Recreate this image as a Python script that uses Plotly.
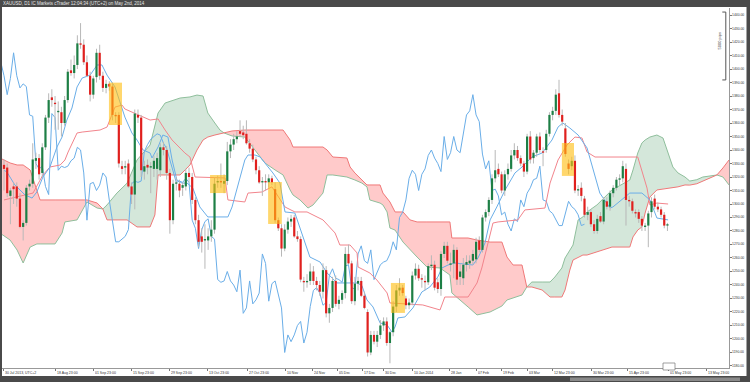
import plotly.graph_objects as go

# ---------------- data ----------------
opens = [1329,1327,1306,1313,1313,1304,1283,1286,1313,1315,1332,1334,1323,1342,1364,1379,1375,1368,1368,1360,
         1377,1399,1397,1403,1419,1418,1405,1395,1381,1394,1412,1395,1386,1389,1387,1366,1366,1328,1327,1330,
         1313,1307,1366,1364,1324,1329,1327,1326,1326,1325,1342,1340,1323,1288,1315,1315,1312,1313,1323,1320,
         1303,1288,1276,1273,1273,1276,1281,1316,1317,1315,1317,1339,1344,1348,1354,1353,1352,1345,1341,1333,
         1325,1316,1317,1316,1319,1311,1288,1282,1267,1281,1287,1290,1276,1274,1243,1242,1243,1250,1243,1240,
         1235,1251,1219,1223,1243,1226,1229,1234,1263,1256,1228,1241,1243,1232,1220,1190,1203,1198,1203,1210,
         1213,1197,1205,1224,1236,1238,1230,1225,1227,1247,1252,1245,1243,1242,1254,1255,1242,1237,1263,1269,
         1255,1256,1266,1246,1245,1255,1256,1258,1259,1273,1266,1290,1294,1303,1319,1326,1322,1310,1322,1326,
         1336,1340,1334,1330,1324,1350,1334,1338,1350,1339,1340,1352,1366,1369,1382,1366,1356,1330,1328,1332,
         1310,1312,1304,1292,1294,1285,1280,1291,1287,1302,1298,1308,1312,1318,1319,1326,1303,1302,1294,1294,
         1289,1283,1284,1294,1304,1298,1296,1292,1284]
highs = [1333,1330,1312,1316,1316,1308,1288,1314,1318,1345,1338,1337,1345,1366,1382,1385,1380,1376,1372,1380,
         1400,1407,1410,1425,1434,1422,1410,1398,1395,1415,1418,1398,1392,1391,1390,1368,1368,1332,1332,1333,
         1316,1370,1370,1366,1332,1333,1331,1336,1338,1345,1346,1343,1326,1318,1320,1318,1316,1326,1327,1323,
         1305,1292,1282,1285,1282,1288,1320,1321,1330,1322,1346,1348,1352,1354,1362,1358,1362,1348,1344,1335,
         1328,1320,1322,1322,1321,1316,1290,1285,1285,1290,1292,1292,1280,1276,1246,1248,1256,1254,1246,1243,
         1256,1254,1226,1246,1247,1232,1236,1268,1270,1258,1246,1246,1246,1235,1222,1206,1206,1206,1214,1216,
         1216,1206,1228,1240,1245,1240,1232,1230,1250,1256,1255,1248,1247,1256,1262,1258,1245,1265,1272,1272,
         1264,1270,1268,1256,1260,1262,1262,1266,1275,1276,1292,1296,1305,1322,1340,1330,1324,1325,1330,1340,
         1345,1343,1336,1332,1352,1354,1340,1352,1353,1342,1355,1368,1372,1385,1392,1370,1360,1333,1335,1336,
         1314,1316,1306,1298,1296,1288,1292,1294,1305,1305,1310,1314,1320,1322,1332,1330,1306,1304,1296,1296,
         1291,1286,1295,1305,1307,1301,1298,1294,1286]
lows = [1310,1305,1285,1300,1298,1282,1273,1284,1310,1312,1326,1318,1320,1340,1360,1372,1355,1355,1350,1358,
        1375,1395,1393,1400,1415,1403,1394,1376,1378,1390,1392,1383,1382,1384,1362,1360,1327,1322,1322,1312,
        1300,1296,1360,1320,1318,1322,1308,1320,1318,1320,1336,1318,1278,1285,1310,1305,1306,1310,1316,1300,
        1285,1268,1264,1252,1266,1272,1278,1312,1312,1308,1314,1334,1340,1345,1350,1348,1344,1338,1331,1322,
        1315,1306,1310,1312,1314,1286,1280,1261,1265,1278,1283,1275,1272,1242,1235,1238,1240,1240,1236,1232,
        1230,1216,1212,1220,1224,1222,1226,1230,1255,1226,1225,1236,1231,1222,1187,1188,1196,1194,1200,1206,
        1195,1182,1202,1220,1232,1232,1222,1222,1225,1244,1243,1238,1236,1240,1251,1236,1234,1232,1260,1256,
        1250,1245,1240,1240,1240,1250,1252,1255,1256,1264,1264,1287,1291,1300,1316,1320,1308,1306,1318,1324,
        1333,1332,1328,1320,1322,1330,1330,1335,1338,1328,1338,1350,1362,1366,1364,1358,1335,1322,1325,1308,
        1306,1302,1290,1288,1283,1278,1278,1286,1285,1296,1295,1305,1310,1314,1316,1284,1298,1293,1290,1286,
        1280,1280,1268,1290,1296,1294,1290,1282,1280]
closes = [1326,1308,1310,1311,1304,1283,1286,1312,1315,1333,1334,1322,1342,1364,1377,1377,1374,1369,1360,1377,
          1398,1397,1403,1419,1418,1405,1395,1381,1393,1412,1395,1386,1389,1387,1366,1365,1330,1326,1328,1313,
          1307,1367,1364,1325,1328,1327,1328,1332,1334,1342,1340,1323,1288,1315,1316,1310,1314,1323,1320,1303,
          1288,1272,1272,1274,1276,1281,1315,1317,1316,1317,1339,1344,1348,1350,1352,1351,1345,1341,1333,1325,
          1316,1317,1316,1319,1316,1288,1282,1267,1281,1287,1289,1276,1274,1244,1242,1243,1250,1243,1240,1235,
          1251,1219,1223,1243,1226,1229,1234,1263,1256,1228,1241,1243,1232,1223,1190,1203,1198,1203,1210,1213,
          1197,1205,1224,1236,1238,1234,1225,1227,1247,1252,1245,1244,1242,1254,1255,1238,1237,1263,1269,1258,
          1256,1266,1244,1250,1255,1257,1258,1263,1272,1266,1290,1294,1303,1319,1325,1322,1310,1322,1326,1336,
          1340,1334,1330,1324,1350,1333,1338,1350,1340,1338,1352,1366,1369,1381,1366,1361,1337,1326,1332,1310,
          1311,1306,1292,1294,1285,1280,1289,1287,1303,1298,1308,1312,1318,1319,1328,1303,1302,1295,1293,1289,
          1284,1284,1293,1302,1298,1296,1292,1284,1285]

# Tenkan-sen (blue, follows price) vertices: bar index, price
tenkan_x = [0,0.9,3.4,6.6,8.8,10.3,12.2,14.4,16.6,18.2,19.7,21.3,22.9,24.5,27,29.2,30.7,32.3,34.8,36.4,37.9,40.1,
            41.7,43.6,45.8,46.4,48.3,49.8,51.4,52.7,54.2,55.8,57.4,59.2,61.4,63.9,70.2,71.5,74,75.5,76.5,78.7,80.3,
            81.8,84.3,86.5,88.1,91.2,93.7,95.9,99.1,101.3,104.4,110.7,112.2,113.8,115.7,117.9,120.1,121.6,122.6,
            123.5,125.7,128.2,131,133.5,136,137.3,139.2,141.4,147,148.6,150.8,152.4,154.5,157.1,160.2,162.4,165.5,
            168.7,171.8,173.7,175.2,177.4,180,182.8,186.8,190,190.9,196.2,200,202.5,204.7,208.2]
tenkan_y = [1325,1323.7,1314.1,1306.7,1304.4,1308.9,1320,1327.4,1342.2,1349.6,1362.2,1371.1,1386.7,1393.3,1395.5,
            1403,1403,1395.5,1386.7,1374.8,1364.4,1352.6,1347.4,1340,1337.8,1334.1,1342.2,1351.1,1349.6,1332.6,
            1317.8,1315.5,1315.5,1311.8,1297.8,1290.4,1290.4,1297.8,1320,1332.6,1336.3,1336.3,1334.8,1330.4,1323,
            1315.5,1294.1,1293.3,1275.6,1260.7,1257,1248.9,1241.5,1241.5,1239.6,1228.9,1223.7,1211.9,1210.4,1205.2,
            1208.9,1215.6,1216.3,1223,1234.8,1238.5,1245.9,1252.6,1254.8,1256.3,1254.8,1260,1271.1,1288.2,1297.8,
            1310.4,1323,1327.4,1334.8,1337.8,1347.4,1357,1360,1356.3,1351.1,1341.5,1308.1,1297,1297.8,1308.1,1308.1,
            1303,1289.6,1288.2]

# Kijun-sen (pink) vertices
kijun_x = [0,9.1,12.2,14.4,17.6,19.1,20.1,22.9,24.5,30.1,32.3,34.8,37,37.9,45.8,48.3,50.5,52.7,56.7,58.3,59.9,
           69.3,70.2,75.5,76.5,80.9,84,88.1,91.2,95,100,103.8,105.3,108.5,110.7,111,114.7,116.9,120.1,121,131.3,
           134.5,136.7,138.2,145.5,148.3,149.8,153.3,154.9,161.1,163.3,169.6,171.2,173.7,176.5,179,181.2,182.8,
           185.3,198.7,200.3,201.6,202.5,204.7,208.2]
kijun_y = [1303,1308.1,1321.5,1327.4,1328.9,1332.6,1338.5,1352.6,1353.3,1354.8,1357,1371.8,1373.3,1370.4,1362.2,
           1363,1354.8,1347.4,1337.8,1334.8,1320,1319.3,1303,1301.5,1308.1,1308.9,1312.7,1297.8,1294.1,1294.1,
           1288.2,1278.5,1269.6,1269.6,1263.7,1253.3,1248.9,1243.7,1234.1,1226.7,1225.2,1223,1221.5,1231.1,1231.1,
           1241.5,1252.6,1285.9,1286.7,1288.2,1295.6,1297,1315.5,1332.6,1343.7,1349.6,1348.9,1338.5,1334.8,1334.8,
           1323,1311.8,1299.3,1300.7,1300]

# Cloud: shared bar positions, Senkou span A and Senkou span B
cloud_x = [-1.3,1.9,4.1,6.0,8.2,10.3,11.3,16.0,18.2,19.1,22.9,26.0,29.2,31.0,32.3,35.4,38.6,41.7,45.8,47.3,48.3,
           50.5,55.2,58.3,60.5,62.4,63.9,66.1,67.7,69.0,71.5,75.5,78.7,81.8,85.0,87.5,89.7,90.6,92.8,95.3,96.9,
           100,101.3,103.1,107.5,108.5,110,112.2,113.8,114.7,117.9,118.8,120.1,121,122.6,125.1,127.3,129.5,132.6,
           136.7,139.8,140.4,145.5,148.3,152.4,156.1,157.7,159.6,162.4,163.9,165.5,168.7,171.2,172.7,174.9,175.9,
           177.4,178.4,180,181.5,182.8,185.9,190.6,196.2,197.2,198.7,200,201,202.5,204.7,206.6,208.2,209.7,211.3,
           213.5,215,217.2,219.1,221.3,223.5,225.4,227.3]
span_a = [1278.5,1273.3,1265.9,1256.3,1268.1,1270.4,1270.4,1270.4,1278.5,1286.7,1288.2,1301.5,1297.0,1296.3,1299.3,
          1308.1,1315.5,1332.6,1343.7,1358.5,1367.4,1374.8,1378.5,1379.3,1380.7,1380,1367.4,1360,1354.8,1352.6,
          1350.4,1349.6,1340,1330.4,1325.2,1321.5,1310.4,1306.7,1303,1297,1299.3,1308.1,1321.5,1321.5,1320,1319.3,
          1317.8,1315.5,1312.7,1303,1300.7,1299.3,1294.1,1282.2,1280.7,1271.8,1265.9,1260.7,1253.3,1252.6,1247.4,
          1234.1,1223.7,1217.8,1220,1224.4,1228.9,1230.4,1232.6,1238.5,1242.2,1242.2,1242.2,1245.9,1252.6,1260,
          1265.9,1269.6,1288.2,1290.4,1294.1,1299.3,1310.4,1317.8,1325.2,1337.8,1345.2,1347.4,1349.6,1351.1,1348.9,
          1337.8,1327.4,1323,1320,1317,1318,1320,1321,1321.5,1320,1314.1]
span_b = [1334.1,1330.4,1328.9,1328.9,1325.2,1310.4,1303,1303,1303,1303,1303,1303,1300.7,1296.3,1288.2,1288.2,
          1288.2,1283,1283,1291.9,1321.5,1321.5,1321.5,1328.9,1340,1347.4,1349.6,1351.1,1351.9,1352.6,1354.1,
          1354.8,1354.8,1354.8,1354.8,1354.8,1347.4,1342.2,1342.2,1342.2,1342.2,1342.2,1340,1334.8,1334.1,1327.4,
          1323,1317.8,1314.1,1314.1,1314.1,1308.1,1304.4,1301.5,1294.1,1294.1,1288.2,1286.7,1286.7,1286.7,1286.7,
          1274.8,1274.8,1273.3,1271.8,1271.8,1260.7,1254.8,1254.8,1238.5,1238.5,1236.3,1231.1,1231.1,1231.1,1236.3,
          1251.1,1258.5,1260.7,1262.2,1262.2,1264.4,1268.1,1268.1,1275.6,1280.7,1283,1293.3,1305.2,1310.4,1311.1,
          1311.8,1311.8,1312.7,1314.1,1314,1315,1317,1319,1321.5,1326.7,1332.6]

# Highlight boxes (bar index range, price range)
box_x0 = [32.9, 64.6, 82.8, 121.3, 174.9]
box_x1 = [37.0, 69.6, 87.1, 125.7, 178.7]
box_lo = [1358.5, 1308.1, 1285.2, 1219.3, 1320.8]
box_hi = [1389.9, 1321.5, 1316.3, 1241.5, 1345.2]

# Axis ticks
x_tick_pos = [-0.3, 16.0, 27.9, 40.1, 52.0, 63.9, 76.2, 88.1, 96.6, 104.4, 112.5, 119.1, 128.2, 139.8, 148.0,
              156.1, 164.0, 172.1, 184.3, 195.6, 208.2, 220.4]
x_tick_text = ["30 Jul 2013, UTC+2", "18 Aug 23:00", "01 Sep 23:00", "15 Sep 23:00", "29 Sep 23:00",
               "13 Oct 23:00", "27 Oct 23:00", "10 Nov", "24 Nov", "05 Dec", "17 Dec", "30 Dec", "10 Jan 2014",
               "28 Jan", "07 Feb", "19 Feb", "03 Mar", "12 Mar 23:00", "30 Mar 23:00", "15 Apr 23:00",
               "01 May 23:00", "13 May 23:00"]
y_tick_vals = list(range(1180, 1441, 10))
title_text = "XAUUSD, D1 IC Markets cTrader 12:04:34 (UTC+2) on May 2nd, 2014"
CHIKOU_SHIFT = 26

# ---------------- colours ----------------
GREEN = "#1d7f45"
RED = "#e0201e"
WICK = "#b8b8b8"
BLUE = "#6aaee8"
PINK = "#f2848c"
A_LINE = "#8fbf9c"
B_LINE = "#f07878"
RED_FILL = "#ffcaca"
GREEN_FILL = "#d4e7da"
FONT = "Liberation Sans"

fig = go.Figure()

# ---- cloud fills (split where the spans cross) ----
def sgn(v):
    return 1 if v > 0 else (-1 if v < 0 else 0)

polys = []
cx, ca, cb = [cloud_x[0]], [span_a[0]], [span_b[0]]
cur = sgn(span_b[0] - span_a[0])
for i in range(1, len(cloud_x)):
    s = sgn(span_b[i] - span_a[i])
    if s != 0 and cur != 0 and s != cur:
        d0 = span_b[i-1] - span_a[i-1]
        d1 = span_b[i] - span_a[i]
        t = d0 / (d0 - d1)
        xc = cloud_x[i-1] + t * (cloud_x[i] - cloud_x[i-1])
        yc = span_a[i-1] + t * (span_a[i] - span_a[i-1])
        cx.append(xc); ca.append(yc); cb.append(yc)
        polys.append((cur, cx, ca, cb))
        cx, ca, cb = [xc], [yc], [yc]
        cur = s
    elif cur == 0:
        cur = s
    cx.append(cloud_x[i]); ca.append(span_a[i]); cb.append(span_b[i])
polys.append((cur, cx, ca, cb))

for s, px_, pa, pb in polys:
    fig.add_trace(go.Scatter(
        x=px_ + px_[::-1], y=pa + pb[::-1], fill="toself",
        fillcolor=RED_FILL if s > 0 else GREEN_FILL, line=dict(width=0),
        mode="lines", hoverinfo="skip", showlegend=False))

fig.add_trace(go.Scatter(x=cloud_x, y=span_a, mode="lines", line=dict(color=A_LINE, width=1),
                         hoverinfo="skip", showlegend=False))
fig.add_trace(go.Scatter(x=cloud_x, y=span_b, mode="lines", line=dict(color=B_LINE, width=1),
                         hoverinfo="skip", showlegend=False))

# ---- indicator lines ----
n = len(closes)
idx = list(range(n))
fig.add_trace(go.Scatter(x=[i - CHIKOU_SHIFT for i in idx[CHIKOU_SHIFT - 1:]], y=closes[CHIKOU_SHIFT - 1:],
                         mode="lines", line=dict(color=BLUE, width=1), hoverinfo="skip", showlegend=False))
fig.add_trace(go.Scatter(x=kijun_x, y=kijun_y, mode="lines", line=dict(color=PINK, width=1),
                         hoverinfo="skip", showlegend=False))
fig.add_trace(go.Scatter(x=tenkan_x, y=tenkan_y, mode="lines", line=dict(color=BLUE, width=1),
                         hoverinfo="skip", showlegend=False))

# ---- candle wicks ----
wx, wy = [], []
for i in idx:
    wx += [i, i, None]
    wy += [lows[i], highs[i], None]
fig.add_trace(go.Scatter(x=wx, y=wy, mode="lines", line=dict(color=WICK, width=1),
                         hoverinfo="skip", showlegend=False))

# ---- candle bodies (thick vertical strokes, same layer as lines) ----
for up, colr in ((True, GREEN), (False, RED)):
    bx, by = [], []
    for i in idx:
        o, c = opens[i], closes[i]
        if (c >= o) == up:
            lo, hi = min(o, c), max(o, c)
            if hi - lo < 0.9:
                mid = (hi + lo) / 2
                lo, hi = mid - 0.45, mid + 0.45
            bx += [i, i, None]
            by += [lo, hi, None]
    fig.add_trace(go.Scatter(x=bx, y=by, mode="lines", line=dict(color=colr, width=2.2),
                             hoverinfo="skip", showlegend=False))

# ---- highlight boxes ----
for x0, x1, lo, hi in zip(box_x0, box_x1, box_lo, box_hi):
    fig.add_shape(type="rect", xref="x", yref="y", x0=x0, x1=x1, y0=lo, y1=hi,
                  fillcolor="rgba(255,190,20,0.62)", line=dict(width=0), layer="above")

# ---- pips bracket ----
fig.add_shape(type="line", xref="x", yref="y", x0=226.3, x1=226.3, y0=1442.2, y1=1391.9,
              line=dict(color="#555", width=1))
fig.add_shape(type="line", xref="x", yref="y", x0=225.2, x1=226.3, y0=1442.2, y1=1442.2,
              line=dict(color="#555", width=1))
fig.add_shape(type="line", xref="x", yref="y", x0=225.2, x1=226.3, y0=1391.9, y1=1391.9,
              line=dict(color="#555", width=1))
fig.add_annotation(x=224.4, y=1421, xref="x", yref="y", text="5000 pips", textangle=-90, showarrow=False,
                   font=dict(size=4, color="#333", family=FONT))

# ---- frame strips ----
W, H = 750, 382
L, R, T, B = 2, 21, 8, 14
pw, ph = W - L - R, H - T - B
def xp(px):
    return (px - L) / pw
def yp(py):
    return (H - B - py) / ph
strip = "#4a4a4a"
fig.add_shape(type="rect", xref="paper", yref="paper", x0=xp(0), x1=xp(W), y0=yp(7), y1=yp(0),
              fillcolor=strip, line=dict(width=0), layer="above")
fig.add_shape(type="rect", xref="paper", yref="paper", x0=xp(0), x1=xp(2), y0=yp(H), y1=yp(0),
              fillcolor=strip, line=dict(width=0), layer="above")
fig.add_shape(type="rect", xref="paper", yref="paper", x0=xp(746.5), x1=xp(W), y0=yp(H), y1=yp(0),
              fillcolor=strip, line=dict(width=0), layer="below")
fig.add_shape(type="rect", xref="paper", yref="paper", x0=xp(0), x1=xp(W), y0=yp(H), y1=yp(376),
              fillcolor=strip, line=dict(width=0), layer="below")
fig.add_shape(type="rect", xref="paper", yref="paper", x0=xp(570), x1=xp(740), y0=yp(381), y1=yp(377.5),
              fillcolor="#8a8a8a", line=dict(width=0), layer="below")
fig.add_shape(type="rect", xref="paper", yref="paper", x0=xp(663), x1=xp(675), y0=yp(370), y1=yp(363),
              fillcolor="white", line=dict(color="#777", width=0.7), layer="above")
fig.add_annotation(x=xp(2), y=yp(3.5), xref="paper", yref="paper", text=title_text, showarrow=False,
                   xanchor="left", yanchor="middle", width=240, height=7, align="left", borderpad=0,
                   font=dict(size=4.5, color="#e6e6e6", family=FONT))

# ---- axis labels as annotations (left-aligned after each tick, like the reference) ----
for tv, tt in zip(x_tick_pos, x_tick_text):
    fig.add_annotation(x=tv, y=yp(368.5), xref="x", yref="paper", text=tt, showarrow=False,
                       xanchor="left", yanchor="top", xshift=0.5, borderpad=0, align="left",
                       width=round(len(tt) * 2.1 + 3), height=6,
                       font=dict(size=3.5, color="#333", family=FONT))
for v in y_tick_vals:
    fig.add_annotation(x=xp(730.5), y=v, xref="paper", yref="y", text=f"{v:.2f}", showarrow=False,
                       xanchor="left", yanchor="middle", borderpad=0, align="left", width=14, height=6,
                       font=dict(size=3.4, color="#333", family=FONT))

fig.update_layout(
    width=W, height=H, margin=dict(l=L, r=R, t=T, b=B),
    paper_bgcolor="white", plot_bgcolor="white", showlegend=False,
    xaxis=dict(range=[-0.63, 227.3], tickvals=x_tick_pos, showticklabels=False, ticks="outside", ticklen=2,
               tickcolor="#777", showgrid=False, zeroline=False,
               showline=True, linecolor="#999", linewidth=1),
    yaxis=dict(range=[1178.5, 1445.2], side="right", tickvals=y_tick_vals, showticklabels=False,
               ticks="outside", ticklen=1.5, tickcolor="#777", showgrid=False, zeroline=False, showline=True,
               linecolor="#999", linewidth=1),
)

# remove the browser's default 8px page margin so the figure sits at the window origin
fig.write_html("out.html", config={"displayModeBar": False, "staticPlot": True},
               post_script="document.body.style.margin='0';document.body.style.overflow='hidden';")
